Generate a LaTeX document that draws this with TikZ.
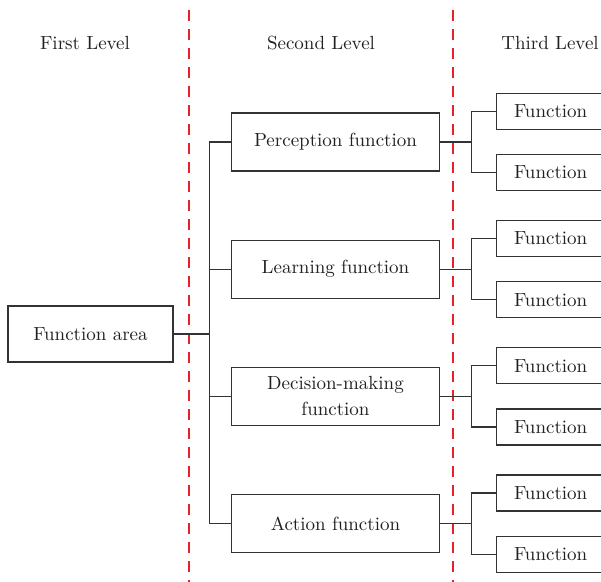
\documentclass[tikz,border=0pt]{standalone}
\usepackage{xcolor}
\definecolor{cLine}{HTML}{333333}
\definecolor{cText}{HTML}{231F20}
\definecolor{cSplit}{HTML}{E8202A}
\usetikzlibrary{positioning}
\tikzset{
  node-area/.style={draw=cLine,line width=0.6pt,minimum width=82.5pt,
    minimum height=28pt,inner sep=2pt,align=center,text=cText,
    font=\fontsize{9.5}{13}\selectfont},
  node-second/.style={node-area,minimum width=104pt,minimum height=29pt},
  node-third/.style={node-area,minimum width=54pt,minimum height=18pt},
  node-head/.style={text=cText,font=\fontsize{9.5}{13}\selectfont},
  link/.style={draw=cLine,line width=0.6pt},
  divider/.style={draw=cSplit,line width=1pt,dash pattern=on 5.5pt off 4pt},
}
\begin{document}
\begin{tikzpicture}[x=0.5pt,y=-0.5pt,node distance=34pt and 28pt]
  \useasboundingbox[fill=white] (0,0) rectangle (601,582);
  % level headers and red dividers
  \node[node-head] (h1) at (85,43)  {First Level};
  \node[node-head] (h2) at (321,43) {Second Level};
  \node[node-head] (h3) at (550,43) {Third Level};
  \draw[divider] (189,10) -- (189,582);
  \draw[divider] (453,10) -- (453,582);
  % first and second level
  \node[node-area] (area) at (90.5,334) {Function area};
  \node[node-second] (per) at (335.5,142) {Perception function};
  \node[node-second,below=of per] (lea) {Learning function};
  \node[node-second,below=of lea] (dec) {Decision-making\\function};
  \node[node-second,below=of dec] (act) {Action function};
  \draw[link] (area.east) -- ++(18pt,0) coordinate (trunk);
  \foreach \n in {per,lea,dec,act}
    \draw[link] (\n.west) -| (trunk);
  % third level
  \foreach \n in {per,lea,dec,act}{
    \node[node-third,above right=6pt and 28pt of \n.east] (\n-a) {Function};
    \node[node-third,below right=6pt and 28pt of \n.east] (\n-b) {Function};
    \draw[link] (\n.east) -- ++(15.5pt,0) coordinate (\n-j);
    \draw[link] (\n-a.west) -| (\n-j);
    \draw[link] (\n-b.west) -| (\n-j);
  }
\end{tikzpicture}
\end{document}
